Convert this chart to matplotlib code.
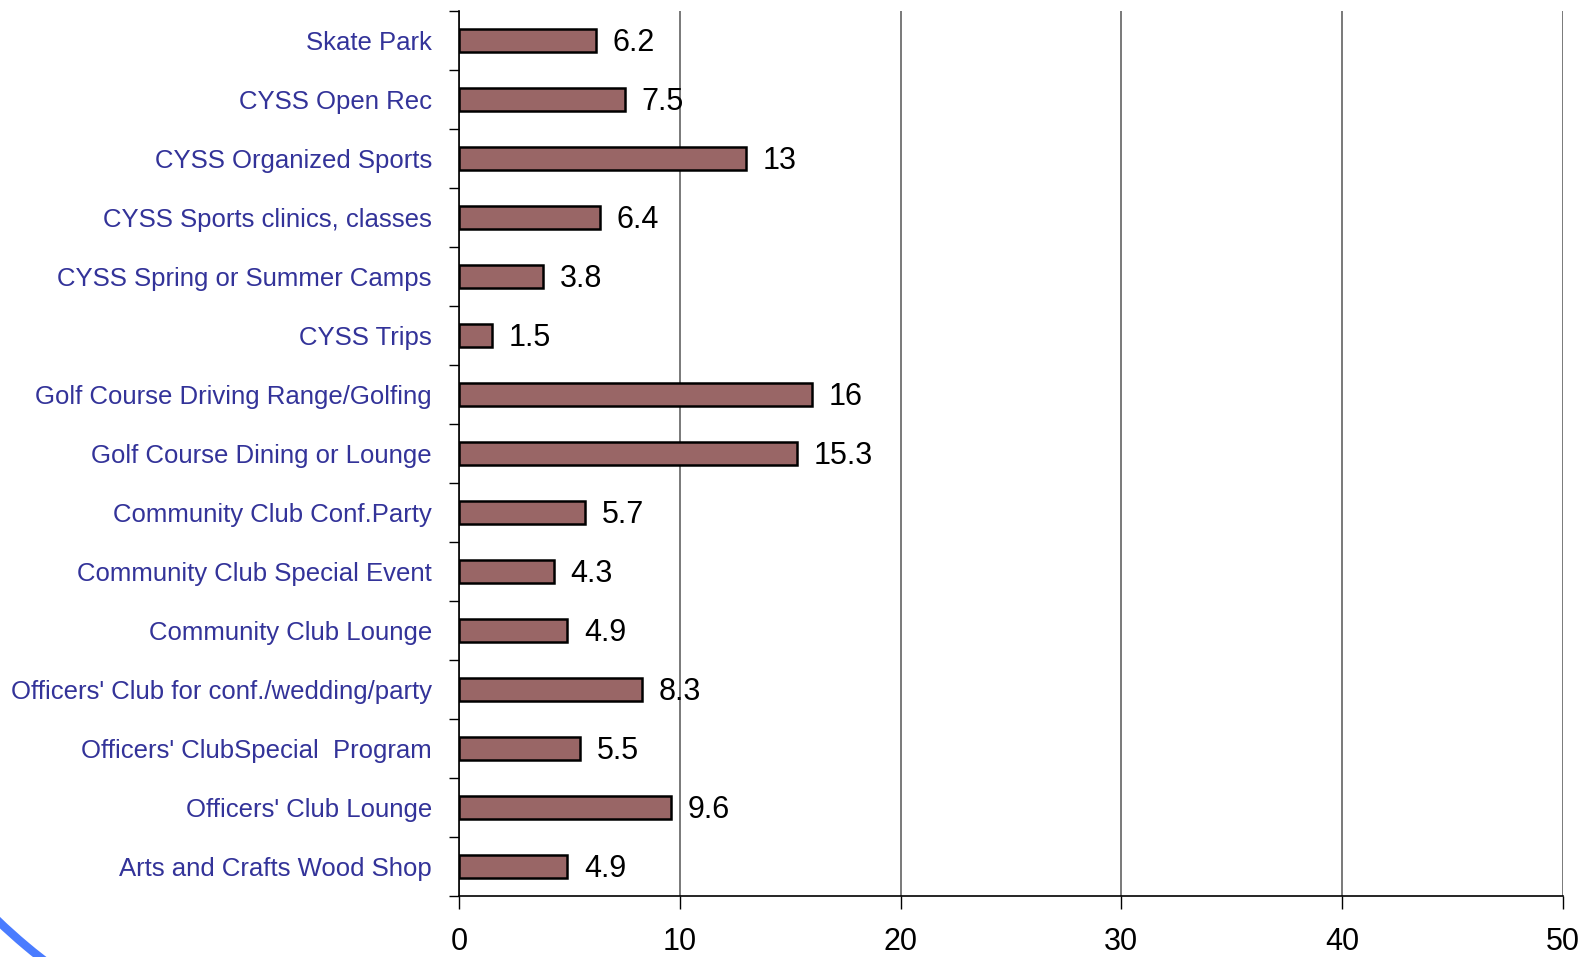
import matplotlib
matplotlib.use("Agg")
import matplotlib.pyplot as plt
from matplotlib.patches import Arc
import numpy as np

categories = ["Skate Park", "CYSS Open Rec", "CYSS Organized Sports",
              "CYSS Sports clinics, classes", "CYSS Spring or Summer Camps",
              "CYSS Trips", "Golf Course Driving Range/Golfing",
              "Golf Course Dining or Lounge", "Community Club Conf.Party",
              "Community Club Special Event", "Community Club Lounge",
              "Officers' Club for conf./wedding/party",
              "Officers' ClubSpecial  Program", "Officers' Club Lounge",
              "Arts and Crafts Wood Shop"]
values = [6.2, 7.5, 13, 6.4, 3.8, 1.5, 16, 15.3, 5.7, 4.3, 4.9, 8.3, 5.5, 9.6, 4.9]
value_labels = ["6.2", "7.5", "13", "6.4", "3.8", "1.5", "16", "15.3", "5.7",
                "4.3", "4.9", "8.3", "5.5", "9.6", "4.9"]
xticks = [0, 10, 20, 30, 40, 50]

plt.rcParams['font.family'] = ['Liberation Sans', 'DejaVu Sans']

fig = plt.figure(figsize=(15.91, 9.57), dpi=100)
ax = fig.add_axes([459/1591, 1 - 896/957, (1563-459)/1591, (896-11)/957])

n = len(categories)
ypos = np.arange(n)[::-1]
ax.barh(ypos, values, height=0.4, color="#996666", edgecolor="black",
        linewidth=1.8, zorder=3)
for y, v, lab in zip(ypos, values, value_labels):
    ax.text(v + 0.75, y - 0.05, lab, ha="left", va="center", fontsize=22,
            color="black", zorder=4)

ax.set_xlim(0, 50)
ax.set_ylim(-0.5, n - 0.5)
ax.set_xticks(xticks)
ax.set_xticklabels([str(t) for t in xticks], fontsize=22)
ax.tick_params(axis="x", length=9, width=1, pad=13, direction="out")
ax.xaxis.grid(True, color="#555555", linewidth=1.1, zorder=0)

ax.set_yticks(np.arange(-0.5, n, 1.0))
ax.set_yticklabels([])
ax.set_yticks(ypos, minor=True)
ax.set_yticklabels(categories, minor=True, fontsize=18.5, color="#333399")
ax.tick_params(axis="y", which="major", length=7, width=1)
ax.tick_params(axis="y", which="minor", length=0, pad=19.5)

ax.spines["top"].set_visible(False)
ax.spines["right"].set_visible(False)
ax.spines["left"].set_linewidth(1.2)
ax.spines["bottom"].set_linewidth(1.2)

arc = Arc((4.0, 4.57), 11.64, 11.64, theta1=215, theta2=245,
          transform=fig.dpi_scale_trans, color="#4a7cff", linewidth=6,
          clip_on=False)
fig.add_artist(arc)

fig.savefig("out.png", dpi=100)
